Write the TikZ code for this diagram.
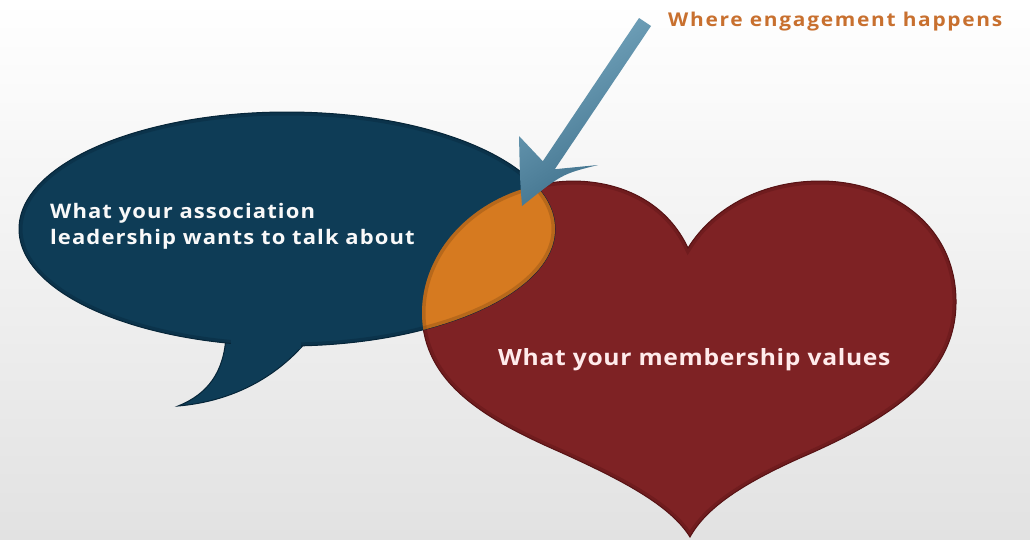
\documentclass[tikz,border=0pt]{standalone}
\usepackage{fontspec}
\setmainfont{Open Sans}
\newfontfamily\bubfont[FakeStretch=1.1, LetterSpace=5.5]{Open Sans}
\newfontfamily\hrtfont[FakeStretch=1.1, LetterSpace=3]{Open Sans}
\newfontfamily\lblfont[FakeStretch=1.1, LetterSpace=9]{Open Sans}
\usetikzlibrary{calc}
\definecolor{bg}{HTML}{E2E2E2}
\definecolor{bubble}{HTML}{0E3C56}
\definecolor{bubbleedge}{HTML}{062538}
\definecolor{heart}{HTML}{7E2224}
\definecolor{heartedge}{HTML}{561214}
\definecolor{overlap}{HTML}{D67A20}
\definecolor{arrowlight}{HTML}{7AABC3}
\definecolor{arrowdark}{HTML}{3A6B86}
\definecolor{labelc}{HTML}{C8702F}
\tikzset{
  lbl/.style={font=\bubfont\bfseries\fontsize{20}{26}\selectfont, text=white!95!gray, align=left, inner sep=0pt},
  hlbl/.style={font=\hrtfont\bfseries\fontsize{22.4}{27}\selectfont, text=white!92!red, inner sep=0pt},
  olbl/.style={font=\lblfont\bfseries\fontsize{19}{22}\selectfont, text=labelc, inner sep=0pt},
  glow/.style={draw=#1, line width=7pt, opacity=0.35}
}
\begin{document}
\begin{tikzpicture}[x=1pt,y=-1pt]
\useasboundingbox (0,0) rectangle (1030,539);
\shade[top color=white, bottom color=bg] (0,0) rectangle (1030,539);
% heart
\def\heartpath{(688,248) .. controls (668,205) and (625,181) .. (572,181)
  .. controls (485,183) and (421,245) .. (422,315)
  .. controls (424,382) and (482,418) .. (560,452)
  .. controls (622,480) and (670,505) .. (690,537)
  .. controls (706,508) and (742,484) .. (800,458)
  .. controls (902,414) and (957,370) .. (956,300)
  .. controls (955,224) and (890,181) .. (820,181)
  .. controls (757,181) and (710,212) .. (688,248) -- cycle}
\def\bubpath{(287,229) ellipse [x radius=268, y radius=117]}
\path[fill=heart] \heartpath;
\begin{scope}
  \clip \heartpath;
  \path[glow=heartedge] \heartpath;
\end{scope}
\path[draw=heartedge, line width=1pt] \heartpath;
% bubble
\path[fill=bubble, draw=bubbleedge, line width=1pt]
  (226,336) .. controls (224,372) and (208,394) .. (178,406)
  .. controls (226,402) and (272,382) .. (306,342) -- cycle;
\path[fill=bubble] \bubpath;
\begin{scope}
  \clip \bubpath;
  \path[glow=bubbleedge] \bubpath;
\end{scope}
\path[draw=bubbleedge, line width=1pt] \bubpath;
\path[fill=bubble] (231,330) -- (301,330) -- (301,349) -- (231,349) -- cycle;
% overlap
\begin{scope}
  \clip \heartpath;
  \path[fill=overlap] \bubpath;
  \clip \bubpath;
  \path[glow=overlap!60!black] \bubpath;
  \path[glow=overlap!60!black] \heartpath;
\end{scope}
% arrow
\shade[left color=arrowlight, right color=arrowdark, shading angle=34]
  (522,206) .. controls (520,180) .. (519,136)
  -- (542.8,161.2) -- (639,18) -- (651,26) -- (554.8,169.2)
  -- (598,165) .. controls (562,174) .. (522,206) -- cycle;
% texts
\node[lbl, anchor=base west] (t1) at (50,244) {What your association\\leadership wants to talk about};
\node[hlbl, anchor=base west] (t2) at (498,365) {What your membership values};
\node[olbl, anchor=base west] (t3) at (668,26) {Where engagement happens};
\end{tikzpicture}
\end{document}
